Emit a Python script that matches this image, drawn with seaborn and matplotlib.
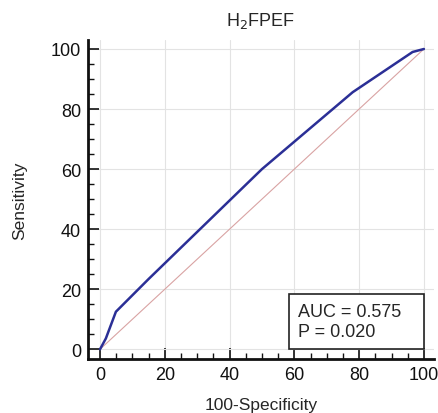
import matplotlib
matplotlib.use("Agg")
import matplotlib.pyplot as plt
import seaborn as sns
import pandas as pd
from matplotlib.ticker import MultipleLocator
from matplotlib.patches import Rectangle

# ROC curve points
fpr = [0, 1.8, 4.9, 15, 50, 78, 96.5, 100]
tpr = [0, 3.6, 12.5, 23.4, 60, 85.6, 99, 100]
auc_text = "AUC = 0.575\nP = 0.020"

df = pd.DataFrame({"fpr": fpr, "tpr": tpr})

sns.set_style("white")
plt.rcParams['font.family'] = ['Liberation Sans', 'DejaVu Sans']

fig = plt.figure(figsize=(4.38, 4.14), dpi=100)
ax = fig.add_axes([0.201, 0.130, 0.789, 0.771])

ax.plot([0, 100], [0, 100], color="#d9a3a3", lw=0.8, zorder=2)
sns.lineplot(data=df, x="fpr", y="tpr", color="#2b2f96", lw=1.8, ax=ax,
             sort=False, zorder=3)

ax.set_xlim(-3.7, 103)
ax.set_ylim(-3.3, 103)
ax.xaxis.set_minor_locator(MultipleLocator(5))
ax.yaxis.set_minor_locator(MultipleLocator(5))
ax.set_xticks(range(0, 101, 20))
ax.set_yticks(range(0, 101, 20))
ax.grid(True, which="major", color="#e3e3e3", lw=0.8, zorder=0)

for s in ["top", "right"]:
    ax.spines[s].set_visible(False)
for s in ["left", "bottom"]:
    ax.spines[s].set_linewidth(2)
    ax.spines[s].set_color("#111111")

ax.tick_params(which="major", direction="in", length=8, width=1.2,
               labelsize=13, colors="#111111", pad=5)
ax.tick_params(which="minor", direction="in", length=4.5, width=1.0,
               colors="#111111")
ax.tick_params(axis="x", which="both", bottom=True)
ax.tick_params(axis="y", which="both", left=True)

ax.set_xlabel("100-Specificity", fontsize=12.5, labelpad=10)
ax.set_ylabel("Sensitivity", fontsize=12.5, labelpad=17)
ax.set_title("H$_2$FPEF", fontsize=13, pad=11)

# stats box
ax.add_patch(Rectangle((58.5, 0), 41.5, 18.4, fc="white", ec="#222222",
                       lw=1.2, zorder=5))
ax.text(61, 9.2, auc_text, fontsize=13, va="center", ha="left",
        linespacing=1.2, zorder=6)

fig.savefig("out.png", dpi=100)
